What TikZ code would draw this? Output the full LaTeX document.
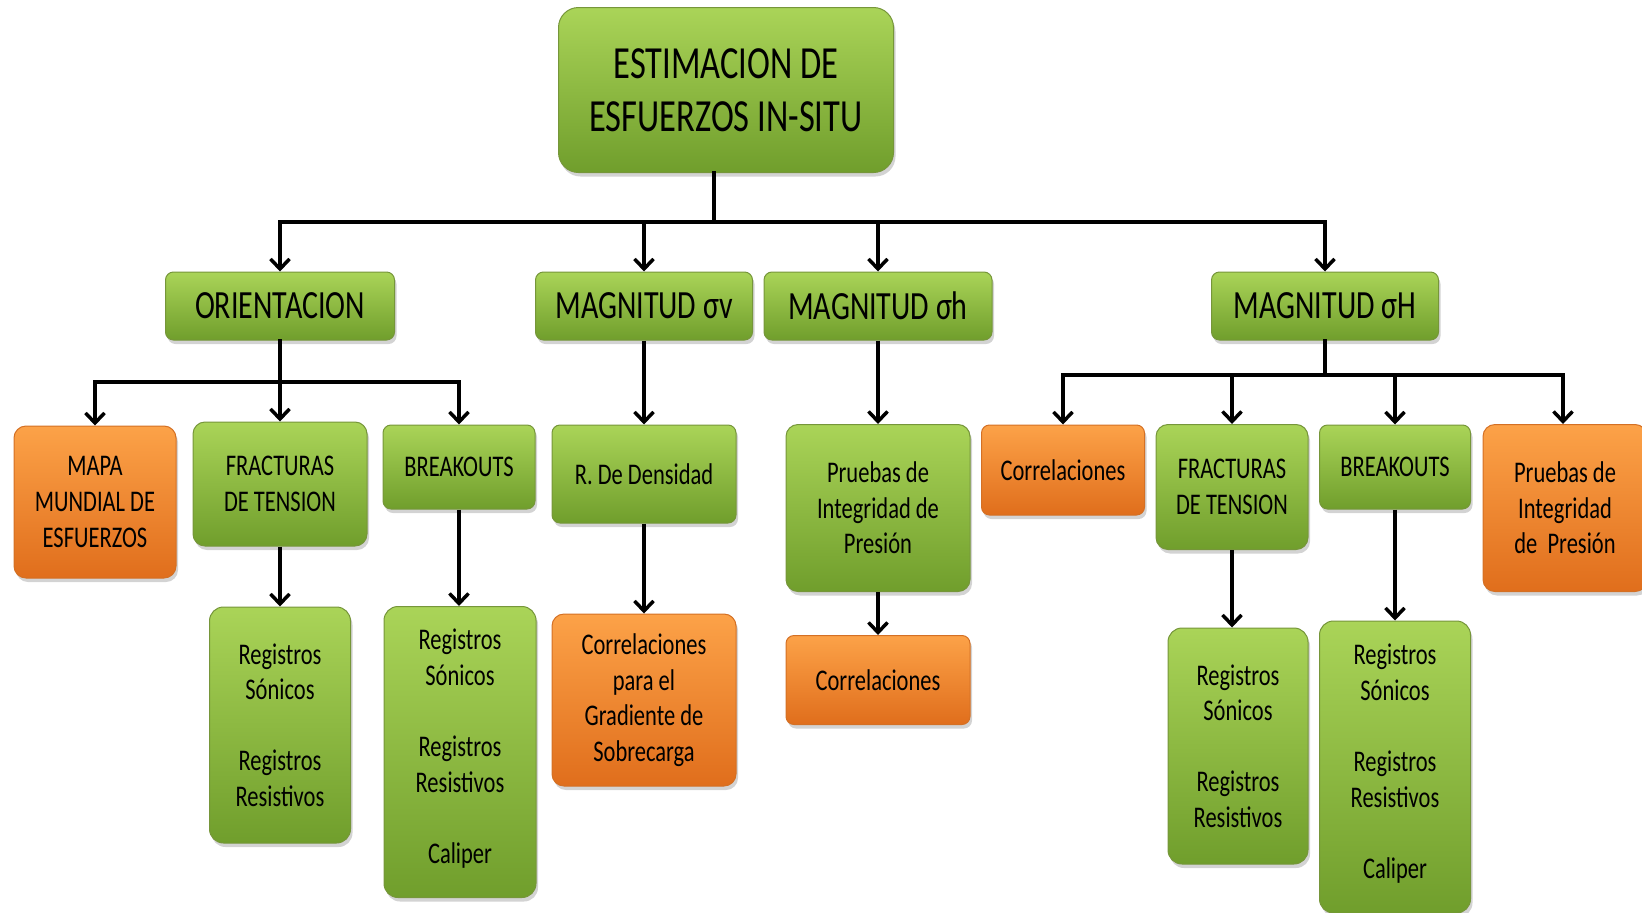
\documentclass[tikz,border=0pt]{standalone}
\usepackage{fontspec}
\setmainfont{Carlito}[FakeStretch=0.75]
\usetikzlibrary{arrows.meta,shadows,calc}
\definecolor{gtop}{RGB}{170,212,88}
\definecolor{gbot}{RGB}{112,158,44}
\definecolor{gdraw}{RGB}{118,150,58}
\definecolor{otop}{RGB}{252,162,72}
\definecolor{obot}{RGB}{224,110,28}
\definecolor{odraw}{RGB}{212,112,36}
\tikzset{
  box/.style={rounded corners=12pt, align=center, inner sep=2pt,
    font=\fontsize{30}{35.6}\selectfont, draw=gdraw, line width=1pt,
    top color=gtop, bottom color=gbot,
    drop shadow={opacity=0.35, shadow xshift=2pt, shadow yshift=-4pt}},
  obox/.style={box, draw=odraw, top color=otop, bottom color=obot},
  lvl/.style={box, rounded corners=8pt, font=\fontsize{40}{48}\selectfont, minimum height=68pt},
  ln/.style={line width=3.5pt, line cap=rect, black},
  arr/.style={line width=3.5pt, black, -{Straight Barb[length=10pt,width=19pt]}},
}
\begin{document}
\begin{tikzpicture}[x=1pt,y=-1pt]
\useasboundingbox (0,0) rectangle (1642,913);
% root
\node[box, rounded corners=20pt, font=\fontsize{46}{53}\selectfont, minimum width=335pt, minimum height=165pt] (root) at (726,90) {ESTIMACION DE\\ESFUERZOS IN-SITU};
% level 1
\node[lvl, minimum width=229pt] (orient) at (280,306) {ORIENTACION};
\node[lvl, minimum width=217pt] (sv) at (644,306) {MAGNITUD σv};
\node[lvl, minimum width=228pt] (sh) at (878,306) {MAGNITUD σh};
\node[lvl, minimum width=227pt] (sH) at (1325,306) {MAGNITUD σH};
% orientacion children
\node[obox, minimum width=162pt, minimum height=152pt] (mapa) at (95,502) {MAPA\\MUNDIAL DE\\ESFUERZOS};
\node[box, minimum width=174pt, minimum height=124pt] (frac1) at (280,484) {FRACTURAS\\DE TENSION};
\node[box, rounded corners=8pt, minimum width=152pt, minimum height=84pt] (brk1) at (459,467) {BREAKOUTS};
\node[box, rounded corners=14pt, minimum width=141pt, minimum height=236pt] (reg1) at (280,725) {Registros\\Sónicos\\~\\Registros\\Resistivos};
\node[box, rounded corners=14pt, minimum width=152pt, minimum height=291pt] (reg2) at (460,752) {Registros\\Sónicos\\~\\Registros\\Resistivos\\~\\Caliper\\[-24pt]~};
% sigma v
\node[box, rounded corners=8pt, minimum width=184pt, minimum height=98pt] (dens) at (644,474) {R. De Densidad};
\node[obox, minimum width=184pt, minimum height=172pt] (corrg) at (644,700) {Correlaciones\\para el\\Gradiente de\\Sobrecarga};
% sigma h
\node[box, minimum width=184pt, minimum height=167pt] (prue) at (878,508) {Pruebas de\\Integridad de\\Presión};
\node[obox, rounded corners=8pt, minimum width=184pt, minimum height=89pt] (corr2) at (878,680) {Correlaciones};
% sigma H
\node[obox, rounded corners=8pt, minimum width=163pt, minimum height=90pt] (corr3) at (1063,470) {Correlaciones};
\node[box, minimum width=152pt, minimum height=125pt] (frac2) at (1232,487) {FRACTURAS\\DE TENSION};
\node[box, rounded corners=8pt, minimum width=151pt, minimum height=84pt] (brk2) at (1395,467) {BREAKOUTS};
\node[obox, minimum width=164pt, minimum height=167pt] (prue2) at (1565,508) {Pruebas de\\Integridad\\de~ Presión};
\node[box, rounded corners=14pt, minimum width=140pt, minimum height=236pt] (reg3) at (1238,746) {Registros\\Sónicos\\~\\Registros\\Resistivos};
\node[box, rounded corners=14pt, minimum width=151pt, minimum height=292pt] (reg4) at (1395,767) {Registros\\Sónicos\\~\\Registros\\Resistivos\\~\\Caliper\\[-24pt]~};
% connectors level 0
\coordinate (trunk) at ($(root.south)+(-12,0)$);
\coordinate (barL) at (280,222);
\coordinate (barR) at (1325,222);
\draw[ln] (trunk) -- (trunk |- barL);
\draw[ln] (barL) -- (barR);
\draw[arr] (barL) -- (orient.north);
\draw[arr] (sv.north |- barL) -- (sv.north);
\draw[arr] (sh.north |- barL) -- (sh.north);
\draw[arr] (barR) -- (sH.north);
% orientacion
\coordinate (oL) at (95,382);
\coordinate (oR) at (459,382);
\draw[ln] (orient.south) -- (orient.south |- oL);
\draw[ln] (oL) -- (oR);
\draw[arr] (oL) -- (mapa.north);
\draw[arr] (orient.south |- oL) -- (frac1.north);
\draw[arr] (oR) -- (brk1.north);
\draw[arr] (frac1.south) -- (reg1.north);
\draw[arr] (brk1.south) -- (brk1.south |- reg2.north);
% sigma v, sigma h
\draw[arr] (sv.south) -- (dens.north);
\draw[arr] (dens.south) -- (corrg.north);
\draw[arr] (sh.south) -- (prue.north);
\draw[arr] (prue.south) -- (corr2.north);
% sigma H
\coordinate (hL) at (1063,375);
\coordinate (hR) at (1563,375);
\draw[ln] (sH.south) -- (sH.south |- hL);
\draw[ln] (hL) -- (hR);
\draw[arr] (hL) -- (corr3.north);
\draw[arr] (frac2.north |- hL) -- (frac2.north);
\draw[arr] (brk2.north |- hL) -- (brk2.north);
\draw[arr] (hR) -- (hR |- prue2.north);
\draw[arr] (frac2.south) -- (frac2.south |- reg3.north);
\draw[arr] (brk2.south) -- (reg4.north);
\end{tikzpicture}
\end{document}
